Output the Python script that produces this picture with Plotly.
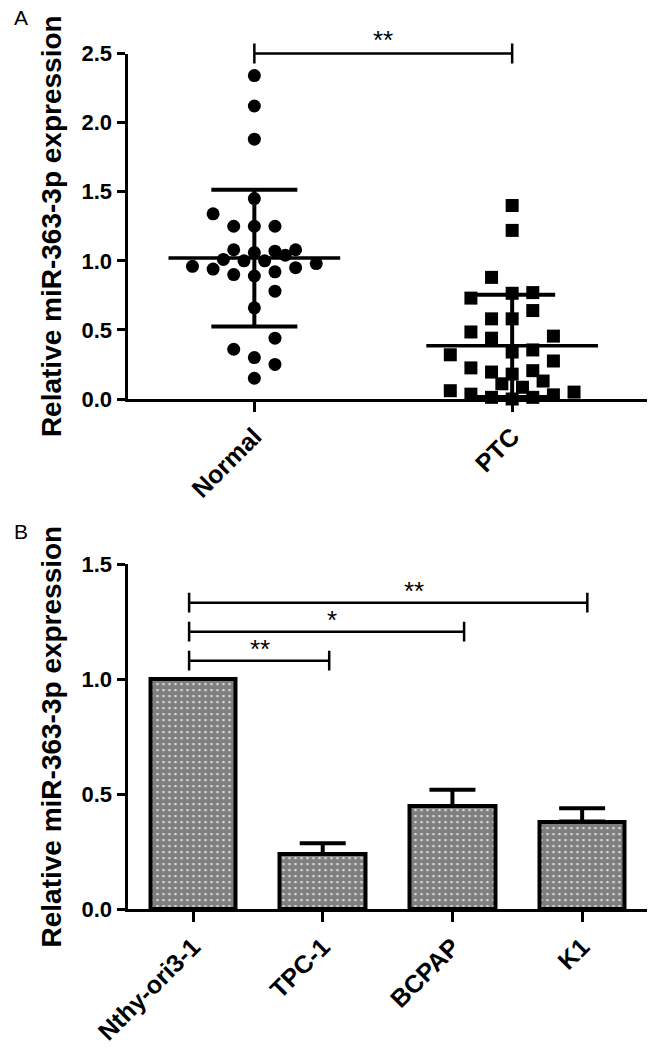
import plotly.graph_objects as go

# ---------------- Panel A data ----------------
groups = ["Normal", "PTC"]
normal_vals = [2.34, 2.12, 1.88, 1.45, 1.34, 1.25, 1.25, 1.25, 1.08, 1.07,
               1.08, 1.01, 1.06, 1.04, 1.00, 1.00, 0.96, 0.94, 0.95, 0.98,
               0.90, 0.89, 0.92, 0.78, 0.66, 0.44, 0.36, 0.30, 0.25, 0.15]
normal_swarm_col = [0, 0, 0, 0, -4, -2, 0, 2, -2, 2,
                    4, -3, 0, 3, -1, 1, -6, -4, 4, 6,
                    -2, 0, 2, 2, 0, 2, -2, 0, 2, 0]
ptc_vals = [1.40, 1.22, 0.88, 0.765, 0.77, 0.73, 0.64, 0.58, 0.58, 0.485,
            0.455, 0.44, 0.34, 0.355, 0.32, 0.275, 0.225, 0.195, 0.18, 0.205,
            0.13, 0.11, 0.085, 0.06, 0.035, 0.012, 0.0, 0.012, 0.03, 0.05]
ptc_swarm_col = [0, 0, -2, 0, 2, -4, 2, -2, 0, -4,
                 4, -2, 0, 2, -6, 4, -4, -2, 0, 2,
                 3, -1, 1, -6, -4, -2, 0, 2, 4, 6]
group_means = [1.02, 0.385]
group_sds = [0.495, 0.37]
a_yticks = [0.0, 0.5, 1.0, 1.5, 2.0, 2.5]
a_sig_label = "**"

# ---------------- Panel B data ----------------
cell_lines = ["Nthy-ori3-1", "TPC-1", "BCPAP", "K1"]
cell_means = [1.00, 0.24, 0.449, 0.381]
cell_err = [0.0, 0.047, 0.07, 0.058]
b_yticks = [0.0, 0.5, 1.0, 1.5]
b_sig_levels = [1.08, 1.206, 1.332]
b_sig_labels = ["**", "*", "**"]
b_sig_end = [1.05, 2.09, 3.04]
b_sig_text_x = [0.52, 1.07, 1.70]

y_title = "Relative miR-363-3p expression"

FONT = "Liberation Sans, Arial, sans-serif"
W, H = 650, 1048
STEP = 0.04

fig = go.Figure()

# ---- Panel A: scatter points ----
fig.add_trace(go.Scatter(
    x=[0 + c * STEP for c in normal_swarm_col], y=normal_vals,
    mode="markers", marker=dict(symbol="circle", size=13, color="black"),
    cliponaxis=False, showlegend=False, xaxis="x", yaxis="y"))
fig.add_trace(go.Scatter(
    x=[1 + c * STEP for c in ptc_swarm_col], y=ptc_vals,
    mode="markers", marker=dict(symbol="square", size=13, color="black"),
    cliponaxis=False, showlegend=False, xaxis="x", yaxis="y"))

# mean lines
for i, m in enumerate(group_means):
    fig.add_trace(go.Scatter(
        x=[i - 0.333, i + 0.333], y=[m, m], mode="lines",
        line=dict(color="black", width=3.5), cliponaxis=False,
        showlegend=False, xaxis="x", yaxis="y"))
# SD error bars
fig.add_trace(go.Scatter(
    x=list(range(len(groups))), y=group_means, mode="markers",
    marker=dict(size=1, color="rgba(0,0,0,0)"),
    error_y=dict(type="data", array=group_sds, symmetric=True,
                 color="black", thickness=4, width=43),
    cliponaxis=False, showlegend=False, xaxis="x", yaxis="y"))

# ---- Panel B: bars ----
fig.add_trace(go.Bar(
    x=list(range(len(cell_lines))), y=cell_means, width=0.66,
    marker=dict(color="white", line=dict(color="black", width=4),
                pattern=dict(shape=".", fgcolor="black", bgcolor="white",
                             size=6, solidity=0.82)),
    error_y=dict(type="data", array=cell_err, arrayminus=[0] * len(cell_err),
                 symmetric=False, color="black", thickness=4, width=23),
    showlegend=False, xaxis="x2", yaxis="y2"))

shapes = []
# Panel A bracket at the top of the y axis (2.5)
tA = 0.029
shapes.append(dict(type="line", xref="x", yref="y domain", x0=0, x1=1,
                   y0=1, y1=1, line=dict(color="black", width=2.5)))
for xx in (0, 1):
    shapes.append(dict(type="line", xref="x", yref="y domain", x0=xx, x1=xx,
                       y0=1 - tA, y1=1 + tA, line=dict(color="black", width=2.5)))
# Panel B brackets
tB = 0.043
for lvl, xe in zip(b_sig_levels, b_sig_end):
    shapes.append(dict(type="line", xref="x2", yref="y2", x0=-0.03, x1=xe,
                       y0=lvl, y1=lvl, line=dict(color="black", width=2.5)))
    for xx in (-0.03, xe):
        shapes.append(dict(type="line", xref="x2", yref="y2", x0=xx, x1=xx,
                           y0=lvl - tB, y1=lvl + tB,
                           line=dict(color="black", width=2.5)))

annotations = []
annotations.append(dict(text=a_sig_label, xref="x", yref="y domain", x=0.5, y=1.058,
                        showarrow=False, yshift=-7, xanchor="center", yanchor="middle",
                        font=dict(family=FONT, size=26, color="black")))
for lbl, lvl, tx in zip(b_sig_labels, b_sig_levels, b_sig_text_x):
    annotations.append(dict(text=lbl, xref="x2", yref="y2", x=tx, y=lvl + 0.08,
                            showarrow=False, yshift=-7, xanchor="center", yanchor="middle",
                            font=dict(family=FONT, size=26, color="black")))
# panel letters
annotations.append(dict(text="A", xref="paper", yref="paper", x=21 / W, y=1 - 17.5 / H,
                        xanchor="center", yanchor="middle",
                        showarrow=False, font=dict(family=FONT, size=21, color="black")))
annotations.append(dict(text="B", xref="paper", yref="paper", x=21 / W, y=1 - 531 / H,
                        xanchor="center", yanchor="middle",
                        showarrow=False, font=dict(family=FONT, size=21, color="black")))

tickfont = dict(family=FONT, size=22, color="black", weight="bold")
xtickfont = dict(family=FONT, size=25, color="black", weight="bold")
titlefont = dict(family=FONT, size=28, color="black", weight="bold")

fig.update_layout(
    width=W, height=H, margin=dict(l=0, r=0, t=0, b=0, pad=0, autoexpand=False),
    autosize=False,
    paper_bgcolor="white", plot_bgcolor="white",
    shapes=shapes, annotations=annotations, bargap=0,
    xaxis=dict(domain=[127.5 / W, 647 / W], range=[-0.492, 1.523],
               tickvals=list(range(len(groups))), ticktext=groups, tickangle=-45,
               ticks="outside", ticklen=10, tickwidth=3, tickcolor="black",
               showline=True, linewidth=3, linecolor="black", showgrid=False,
               zeroline=False, tickfont=xtickfont, anchor="y", automargin=False),
    yaxis=dict(domain=[1 - 399 / H, 1 - 53.5 / H], range=[0, 2.5],
               tickvals=a_yticks, tickformat=".1f",
               ticks="outside", ticklen=8, tickwidth=3, tickcolor="black",
               showline=True, linewidth=3, linecolor="black", showgrid=False,
               zeroline=False, tickfont=tickfont, anchor="x", automargin=False,
               title=dict(text=y_title, font=titlefont, standoff=12)),
    xaxis2=dict(domain=[127.5 / W, 647 / W], range=[-0.505, 3.5],
                tickvals=list(range(len(cell_lines))), ticktext=cell_lines, tickangle=-45,
                ticks="outside", ticklen=10, tickwidth=3, tickcolor="black",
                showline=True, linewidth=3, linecolor="black", showgrid=False,
                zeroline=False, tickfont=xtickfont, anchor="y2", automargin=False),
    yaxis2=dict(domain=[1 - 909.3 / H, 1 - 564 / H], range=[0, 1.5],
                tickvals=b_yticks, tickformat=".1f",
                ticks="outside", ticklen=8, tickwidth=3, tickcolor="black",
                showline=True, linewidth=3, linecolor="black", showgrid=False,
                zeroline=False, tickfont=tickfont, anchor="x2", automargin=False,
                title=dict(text=y_title, font=titlefont, standoff=12)),
)

fig.write_html("out.html", config={"displayModeBar": False},
               post_script="document.body.style.margin='0px';")
